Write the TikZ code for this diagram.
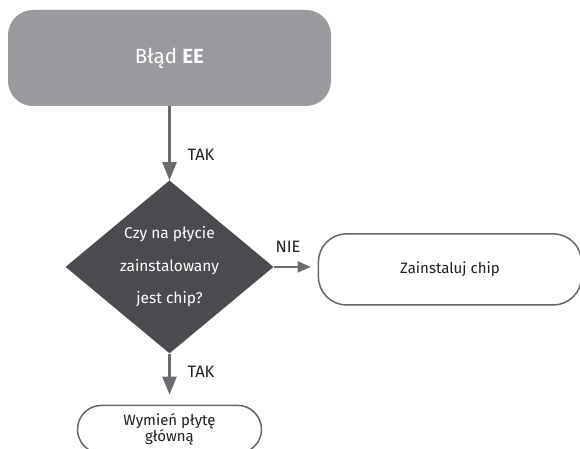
\documentclass[tikz,border=0pt]{standalone}
\usepackage{fontspec}
\setmainfont{Fira Sans}
\usepackage{tikz}
\usetikzlibrary{arrows.meta,positioning,shapes.geometric}
\definecolor{errorgray}{HTML}{9A999E}
\definecolor{decisiondark}{HTML}{4B4A4F}
\definecolor{arrowgray}{HTML}{6B6A6F}
\definecolor{outlinegray}{HTML}{66656A}
\definecolor{textdark}{HTML}{231F20}

\begin{document}
\begin{tikzpicture}[x=1pt, y=-1pt,
  node distance=74pt and 44pt,
  errbox/.style={fill=errorgray, rounded corners=25pt, text=white,
                 minimum width=323pt, minimum height=96pt,
                 font=\fontsize{20.5}{24}\selectfont},
  decision/.style={diamond, fill=decisiondark, text=white, inner sep=0pt,
                   aspect=1.2, minimum width=208pt, minimum height=173pt,
                   align=center, font=\fontsize{15.5}{32.5}\selectfont},
  action/.style={draw=outlinegray, line width=1.5pt, rounded corners=28pt,
                 fill=white, text=textdark, align=center,
                 font=\fontsize{15}{15}\selectfont},
  lbl/.style={text=textdark, font=\fontsize{16.5}{18}\selectfont},
  arr/.style={-{Triangle[length=18pt, width=14pt]}, arrowgray, line width=2.6pt},
  sarr/.style={-{Triangle[length=13pt, width=11pt]}, arrowgray, line width=1.8pt}]
\useasboundingbox (0,0) rectangle (580,449);
\clip (0,0) rectangle (580,449);
\node[errbox] (err) at (169.5,58) {Błąd \textbf{EE}};
\node[decision, below=74pt of err.south, anchor=north] (chip)
  {Czy na płycie\\zainstalowany\\jest chip?};
\node[action, minimum width=263pt, minimum height=71pt, right=44pt of chip.east, anchor=west,
      yshift=-2.5pt] (install) {Zainstaluj chip};
\node[action, minimum width=184pt, minimum height=48pt, rounded corners=24pt,
      below=51pt of chip.south, anchor=north] (replace) {Wymień płytę\\główną};
\draw[arr] (err) -- (chip);
\draw[sarr, shorten >=7pt] (chip.east) -- (chip.east -| install.west);
\draw[arr, shorten >=10pt] (chip) -- (replace);
\node[lbl, anchor=west] (tak1) at (184,155) {TAK};
\node[lbl] (nie) at (288,247) {NIE};
\node[lbl, anchor=west] (tak2) at (184,372) {TAK};
\end{tikzpicture}
\end{document}
